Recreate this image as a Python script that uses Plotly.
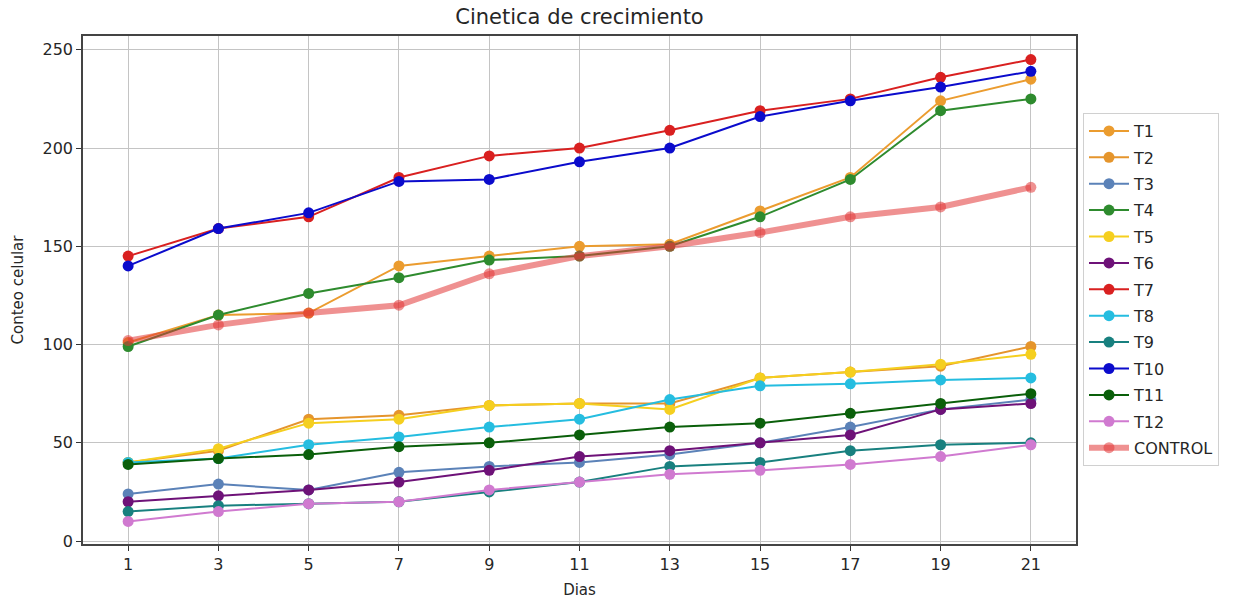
import plotly.graph_objects as go

dias = [1, 3, 5, 7, 9, 11, 13, 15, 17, 19, 21]

T1 = [101, 115, 116, 140, 145, 150, 151, 168, 185, 224, 235]
T2 = [40, 46, 62, 64, 69, 70, 70, 83, 86, 89, 99]
T3 = [24, 29, 26, 35, 38, 40, 44, 50, 58, 67, 72]
T4 = [99, 115, 126, 134, 143, 145, 150, 165, 184, 219, 225]
T5 = [40, 47, 60, 62, 69, 70, 67, 83, 86, 90, 95]
T6 = [20, 23, 26, 30, 36, 43, 46, 50, 54, 67, 70]
T7 = [145, 159, 165, 185, 196, 200, 209, 219, 225, 236, 245]
T8 = [40, 42, 49, 53, 58, 62, 72, 79, 80, 82, 83]
T9 = [15, 18, 19, 20, 25, 30, 38, 40, 46, 49, 50]
T10 = [140, 159, 167, 183, 184, 193, 200, 216, 224, 231, 239]
T11 = [39, 42, 44, 48, 50, 54, 58, 60, 65, 70, 75]
T12 = [10, 15, 19, 20, 26, 30, 34, 36, 39, 43, 49]
CONTROL = [102, 110, 116, 120, 136, 145, 150, 157, 165, 170, 180]

series_names = ["T1", "T2", "T3", "T4", "T5", "T6", "T7", "T8", "T9", "T10", "T11", "T12"]
series_values = [T1, T2, T3, T4, T5, T6, T7, T8, T9, T10, T11, T12]
series_colors = ["#eb9c2f", "#e5952c", "#5b82b8", "#2e8b2e", "#f5cf1f", "#6e1278",
                 "#d92020", "#25bde0", "#18807f", "#0b0bcc", "#0a5f0a", "#d07ad0"]

x_ticks = [1, 3, 5, 7, 9, 11, 13, 15, 17, 19, 21]
y_ticks = [0, 50, 100, 150, 200, 250]

FONT = "DejaVu Sans"
TXT = "#262626"

fig = go.Figure()
for name, vals, col in zip(series_names, series_values, series_colors):
    fig.add_trace(go.Scatter(
        x=dias, y=vals, name=name, mode="lines+markers",
        line=dict(color=col, width=2),
        marker=dict(color=col, size=11),
        legendgroup=name,
    ))

ctrl_col = "rgba(226,55,55,0.55)"
fig.add_trace(go.Scatter(
    x=dias, y=CONTROL, name="CONTROL", mode="lines+markers",
    line=dict(color=ctrl_col, width=6),
    marker=dict(color=ctrl_col, size=11),
    legendgroup="CONTROL",
))

axis_common = dict(
    showline=True, linecolor="#444444", linewidth=1.5, mirror=True,
    showgrid=True, gridcolor="#c4c4c4", gridwidth=1,
    ticks="outside", ticklen=5, tickcolor="#333333", tickwidth=1.2,
    zeroline=False, automargin=False,
    tickfont=dict(family=FONT, size=16, color=TXT),
)

L, R, T, B = 83, 1076, 36, 544

fig.update_layout(
    width=1234, height=601,
    paper_bgcolor="white", plot_bgcolor="white",
    margin=dict(l=L, r=1234 - R, t=T, b=601 - B),
    title=dict(text="Cinetica de crecimiento", x=(L + R) / 2 / 1234, xanchor="center",
               y=1 - 17 / 601, yanchor="middle",
               font=dict(family=FONT, size=21, color=TXT)),
    xaxis=dict(range=[0, 22], tickvals=x_ticks, ticktext=[str(t) for t in x_ticks],
               title=dict(text="Dias", font=dict(family=FONT, size=15, color=TXT), standoff=12),
               **axis_common),
    yaxis=dict(range=[-1.5, 257], tickvals=y_ticks, ticktext=[str(t) for t in y_ticks],
               title=dict(text="Conteo celular", font=dict(family=FONT, size=15, color=TXT), standoff=15),
               **axis_common),
    legend=dict(x=(1083 - L) / (R - L), xanchor="left", y=(B - 113) / (B - T), yanchor="top",
                bgcolor="white", bordercolor="#d0d0d0", borderwidth=1,
                font=dict(family=FONT, size=16, color=TXT),
                tracegroupgap=2.6, itemwidth=40),
    showlegend=True,
)

fig.write_html("out.html", config={"displayModeBar": False},
               post_script="document.body.style.margin='0px';")
